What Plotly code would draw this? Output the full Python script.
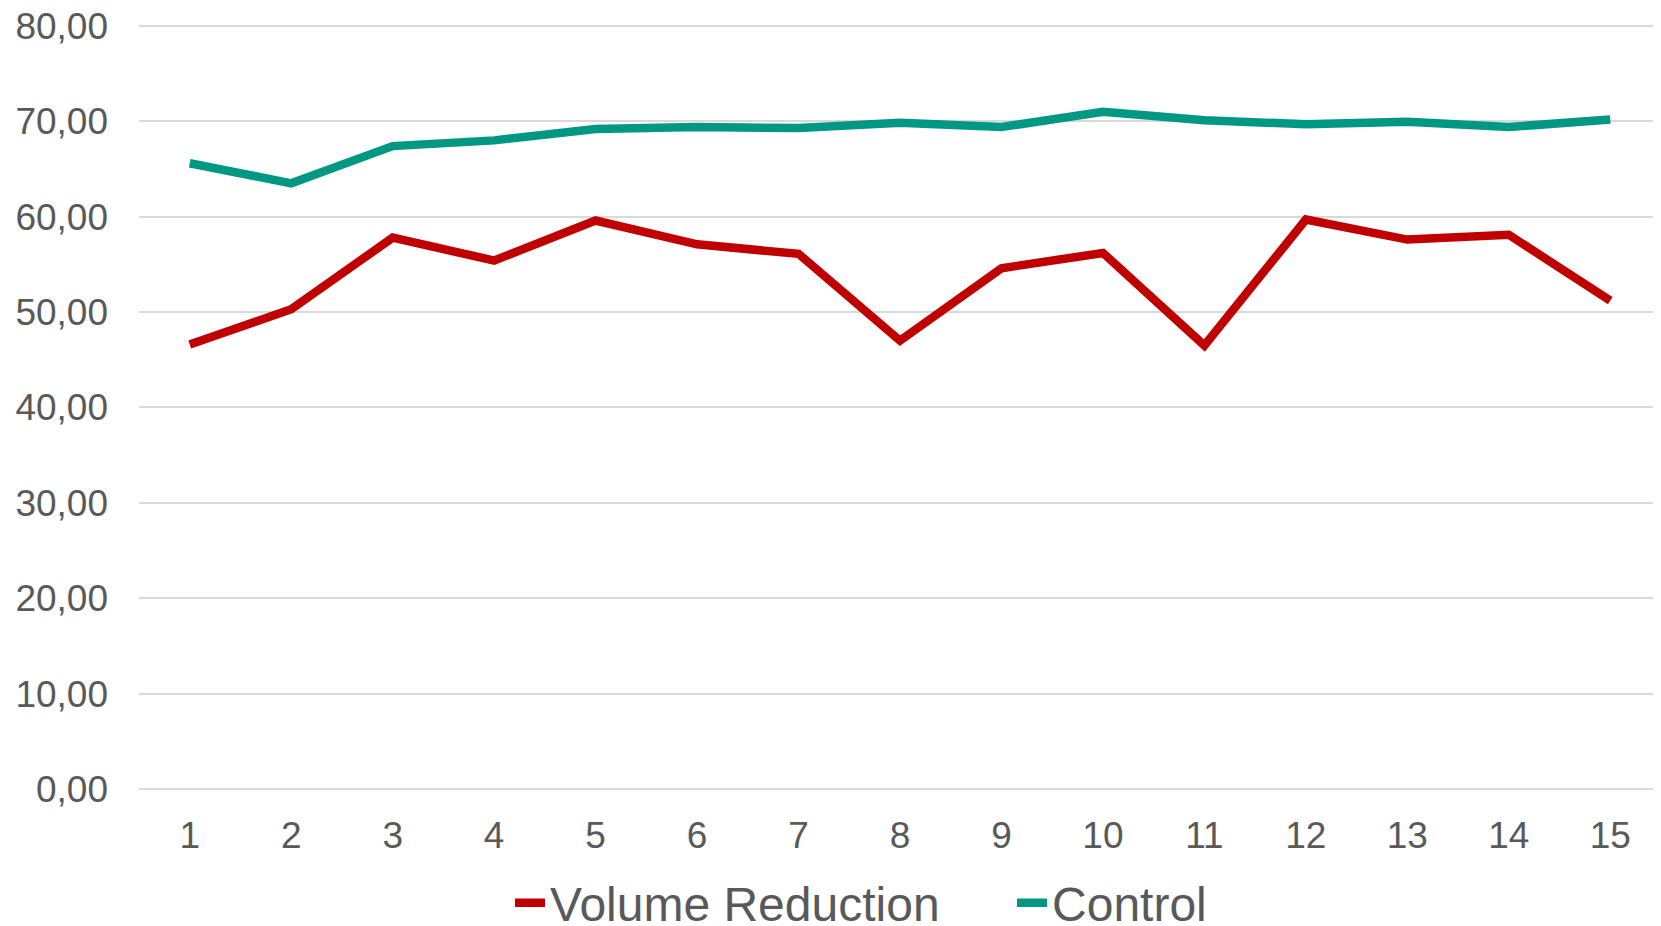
import plotly.graph_objects as go

categories = [str(i) for i in range(1, 16)]
volume_reduction = [46.6, 50.3, 57.8, 55.4, 59.6, 57.1, 56.1, 47.0, 54.6, 56.2, 46.5, 59.7, 57.6, 58.1, 51.2]
control = [65.6, 63.5, 67.4, 68.0, 69.2, 69.4, 69.3, 69.85, 69.4, 71.0, 70.1, 69.7, 69.95, 69.4, 70.2]
y_ticks = [0, 10, 20, 30, 40, 50, 60, 70, 80]

RED = "#C00000"
TEAL = "#009882"
TEXT = "#595959"
GRID = "#D9D9D9"
FONT = "Liberation Sans, Arial, sans-serif"

fig = go.Figure()
fig.add_trace(go.Scatter(x=categories, y=volume_reduction, mode="lines", name="Volume Reduction",
                         line=dict(color=RED, width=8.5)))
fig.add_trace(go.Scatter(x=categories, y=control, mode="lines", name="Control",
                         line=dict(color=TEAL, width=8.5)))

fig.update_layout(
    width=1653, height=918,
    margin=dict(l=131, r=0, t=16, b=137, autoexpand=False),
    paper_bgcolor="white", plot_bgcolor="white",
    separators=",.",
    font=dict(family=FONT, color=TEXT, size=37),
    showlegend=True,
    legend=dict(orientation="h", xref="container", x=0.3037, xanchor="left",
                yref="container", y=0.025, yanchor="middle",
                font=dict(size=48, color=TEXT, family=FONT), itemwidth=30,
                entrywidth=457, bgcolor="rgba(0,0,0,0)"),
    xaxis=dict(type="category", range=[-0.5, 14.5], showgrid=False, showline=False,
               zeroline=False, ticks="", ticklabelstandoff=21, automargin=False,
               ticklabeloverflow="allow",
               tickfont=dict(size=37, color=TEXT, family=FONT)),
    yaxis=dict(range=[0, 80.2], tickvals=y_ticks, tickformat=".2f", showgrid=True,
               gridcolor=GRID, gridwidth=2, zeroline=True, zerolinecolor=GRID, zerolinewidth=2,
               showline=False, ticks="", ticklabelstandoff=30, automargin=False,
               ticklabeloverflow="allow",
               tickfont=dict(size=37, color=TEXT, family=FONT)),
)

fig.write_html("out.html")
